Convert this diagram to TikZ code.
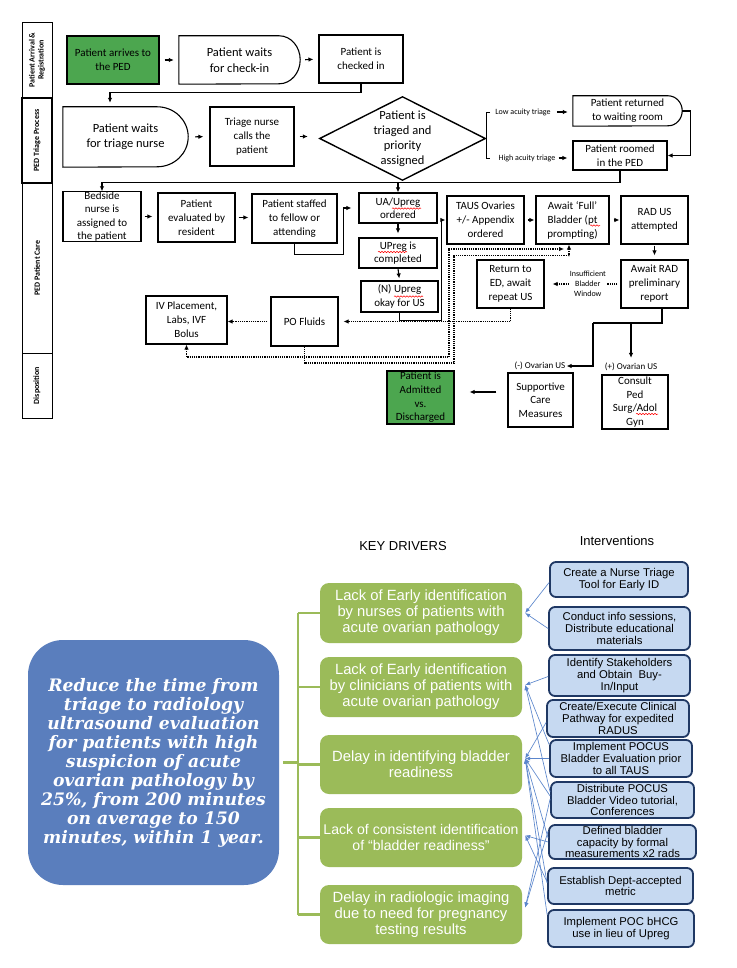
\documentclass[tikz,border=0pt]{standalone}
\usepackage{fontspec}
\setmainfont{Carlito}
\newfontfamily\arialf{Liberation Sans}
\newfontfamily\goalf{DejaVu Serif}
\usetikzlibrary{arrows.meta,calc,decorations.pathmorphing}
\definecolor{pedgreen}{HTML}{4CA64F}
\definecolor{drvgreen}{HTML}{9BBB59}
\definecolor{goalblue}{HTML}{5A7EBD}
\definecolor{ivfill}{HTML}{C6D9F1}
\definecolor{ivborder}{HTML}{1F3864}
\definecolor{linkblue}{HTML}{5B86CC}
\newcommand\delayshape[3]{\draw[line width=1.1pt] (#1.north west) -- ([xshift=-#2pt]#1.north east) arc[start angle=90,end angle=-90,x radius=#2pt,y radius=#3pt] -- (#1.south west) -- cycle;}
\begin{document}
\begin{tikzpicture}[x=1pt,y=-1pt,
  wh/.style 2 args={minimum width=#1pt, minimum height=#2pt},
  tx/.style={align=center, inner sep=0pt, font=\fontsize{11}{14}\selectfont},
  fb/.style={tx, draw, line width=1.1pt},
  bigf/.style={font=\fontsize{12.5}{15.5}\selectfont},
  sm/.style={align=center, inner sep=0pt, font=\fontsize{8}{10}\selectfont},
  sm9/.style={align=center, inner sep=0pt, font=\fontsize{9}{11}\selectfont},
  lane/.style={draw, line width=0.8pt, rotate=90, align=center, inner sep=0pt, font=\bfseries\fontsize{8}{9}\selectfont},
  con/.style={line width=1.1pt, -{Latex[length=5pt,width=4.5pt]}},
  dcon/.style={line width=1.2pt, densely dotted, -{Latex[length=5pt,width=4.5pt]}},
  dbl/.style={line width=1.2pt, densely dotted, {Latex[length=5pt,width=4.5pt]}-{Latex[length=5pt,width=4.5pt]}},
  spell/.style={draw=red, line width=0.5pt, decorate, decoration={snake, amplitude=0.7pt, segment length=3pt}},
  hdr/.style={inner sep=0pt, font=\arialf\fontsize{13}{15}\selectfont},
  goal/.style={fill=goalblue, rounded corners=35pt, text=white, align=center, inner sep=0pt, font=\goalf\bfseries\itshape\fontsize{17.2}{19}\selectfont},
  drv/.style={fill=drvgreen, rounded corners=9pt, text=white, align=center, inner sep=0pt, minimum width=202pt, font=\arialf\fontsize{14.8}{16}\selectfont},
  iv/.style={draw=ivborder, line width=1.8pt, fill=ivfill, rounded corners=6pt, align=center, inner sep=0pt, font=\arialf\fontsize{11.3}{11.6}\selectfont},
  tree/.style={draw=drvgreen, line width=2.2pt},
  barr/.style={draw=linkblue, line width=0.65pt, -{Latex[length=5pt,width=4pt]}}
]
\useasboundingbox (0,0) rectangle (736,968);
\fill[white] (0,0) rectangle (736,968);

% ---------- swimlanes ----------
\node[lane, wh={76}{30}] (L1) at (37,60) {Patient Arrival \&\\Registration};
\node[lane, wh={85}{30}, line width=1.5pt] (L2) at (37,140.5) {PED Triage Process};
\node[lane, wh={170}{30}] (L3) at (37,268) {PED Patient Care};
\node[lane, wh={65}{30}] (L4) at (37,385.5) {Disposition};

% ---------- row 1 ----------
\node[fb, fill=pedgreen, wh={92}{48}] (arr) at (113,60) {Patient arrives to\\the PED};
\node[tx, bigf, wh={121}{48}] (wck) at (239.5,60) {Patient waits\\for check-in};
\delayshape{wck}{21}{24}
\node[fb, wh={84}{48}] (chk) at (361,59) {Patient is\\checked in};
\draw[con, shorten <=5pt, shorten >=5pt] (arr.east) -- (wck.west);
\draw[con, shorten <=5pt, shorten >=5pt] (wck.east) -- (chk.west);

% ---------- row 2 ----------
\node[tx, bigf, wh={125}{60}] (wtri) at (125.5,137) {Patient waits\\for triage nurse};
\delayshape{wtri}{31}{30}
\node[fb, wh={84}{59}] (tn) at (252,136.5) {Triage nurse\\calls the\\patient};
\node[tx, font=\fontsize{12.5}{15}\selectfont, wh={165}{83}] (diam) at (402.5,138.5) {Patient is\\triaged and\\priority\\assigned};
\draw[line width=1.4pt] (diam.west) -- (diam.north) -- (diam.east) -- (diam.south) -- cycle;
\draw[con, shorten >=4pt] (chk.south) -- ++(0,9) -| ([xshift=-15.5pt]wtri.north);
\draw[con, shorten <=7pt, shorten >=6pt] (wtri.east) -- (tn.west);
\draw[con, shorten <=5pt, shorten >=12pt] (tn.east) -- (tn.east -| diam.west);

\coordinate (bt) at (490,112);
\coordinate (bb) at (490,158);
\draw[line width=0.8pt] (bt) -- ++(-4,0) |- (bb);
\node[sm] (lowl) at (523,112) {Low acuity triage};
\node[sm] (highl) at (527,158) {High acuity triage};
\node[tx, wh={109}{30}] (ret) at (627.5,111) {Patient returned\\to waiting room};
\delayshape{ret}{14}{15}
\node[fb, wh={94}{29}] (room) at (620,155.5) {Patient roomed\\in the PED};
\draw[con, shorten <=6pt, shorten >=5pt] (lowl.east) -- (lowl.east -| ret.west);
\draw[con, shorten <=3pt, shorten >=5pt] (highl.east) -- (highl.east -| room.west);
\draw[con] (ret.east) -- ++(8,0) |- (room.east);

% ---------- row 3 ----------
\node[fb, wh={78}{49}, font=\fontsize{11}{13.3}\selectfont] (bed) at (102,216.5) {Bedside\\nurse is\\assigned to\\the patient};
\node[fb, wh={77}{49}] (ev) at (196.5,217.5) {Patient\\evaluated by\\resident};
\node[fb, wh={85}{49}] (stf) at (294.5,218.5) {Patient staffed\\to fellow or\\attending};
\node[fb, wh={78}{30}, font=\fontsize{11}{13.3}\selectfont] (ua) at (398,208) {UA/Upreg\\ordered};
\node[fb, wh={78}{30}, font=\fontsize{11}{13.3}\selectfont] (upc) at (398,253) {UPreg is\\completed};
\node[fb, wh={77}{31}, font=\fontsize{11}{13.3}\selectfont] (nok) at (399.5,296.5) {(N) Upreg\\okay for US};
\node[fb, wh={77}{48}] (taus) at (485.5,220) {TAUS Ovaries\\+/- Appendix\\ordered};
\node[fb, wh={73}{48}] (full) at (572.5,220) {Await ‘Full’\\Bladder (pt\\prompting)};
\node[fb, wh={67}{48}] (rad) at (654.5,220) {RAD US\\attempted};
\node[fb, wh={67}{48}] (awr) at (654.5,284) {Await RAD\\preliminary\\report};
\node[fb, wh={67}{48}] (rtn) at (510.5,284) {Return to\\ED, await\\repeat US};
\node[fb, wh={67}{49}] (po) at (304.5,321.5) {PO Fluids};
\node[fb, wh={81}{48}] (iv) at (186.5,320) {IV Placement,\\Labs, IVF\\Bolus};

% spell-check marks
\draw[spell] (392,208.5) -- (421,208.5);
\draw[spell] (378,252) -- (407,252);
\draw[spell] (394,296.5) -- (423,296.5);
\draw[spell] (590,225.5) -- (600,225.5);

\draw[line width=1.1pt] (room.south) -- ++(0,12) coordinate (rj);
\draw[con] (rj) -| (bed.north);
\draw[con] (ua.north |- rj) -- (ua.north);
\draw[con, shorten <=3pt, shorten >=5pt] (bed.east) -- (bed.east -| ev.west);
\draw[con, shorten <=3pt, shorten >=3pt] (ev.east) -- (ev.east -| stf.west);
\draw[con, shorten >=7pt] (stf.south) -- ++(0,11) -| ([xshift=-15pt]ua.west) -- (ua.west);
\draw[con, shorten >=4pt] (ua.south) -- (upc.north);
\draw[con, shorten >=2pt] (upc.south) -- (nok.north);
\draw[con, shorten >=1pt] (nok.south) -- ++(0,8) -| ([xshift=-5pt]taus.west) -- (taus.west);
\draw[con, shorten <=3pt, shorten >=1pt] (taus.east) -- (full.west);
\draw[con, shorten <=4pt, shorten >=1pt] (full.east) -- (rad.west);
\draw[con, shorten <=1pt, shorten >=4pt] (rad.south) -- (awr.north);

\draw[dcon, shorten <=3pt, shorten >=8pt] (awr.west) -- node[pos=0.43, sm, fill=white, inner sep=1pt] {Insufficient\\Bladder\\Window} (rtn.west -| rtn.east);
\draw[dcon, shorten >=5pt] (rtn.south) |- (po.east);
\draw[dcon, shorten <=3pt] (po.west) -- (po.west -| iv.east);
\draw[dcon] (po.south) |- (454,363) |- ([xshift=-3.5pt,yshift=-11pt]full.south) -- ([xshift=-3.5pt]full.south);
\coordinate (pbend) at (564,249);
\draw[dbl] (iv.south) |- (449,357) |- (pbend);

% ---------- row 4 ----------
\node[sm9] (negl) at (540,366) {(-) Ovarian US};
\node[sm9] (posl) at (631,367) {(+) Ovarian US};
\node[fb, wh={65}{54}, font=\fontsize{11}{13.7}\selectfont] (sup) at (540.5,400) {Supportive\\Care\\Measures};
\node[fb, wh={66}{54}, font=\fontsize{11}{13.6}\selectfont] (cons) at (635,402) {Consult\\Ped\\Surg/Adol\\Gyn};
\node[fb, fill=pedgreen, wh={67}{53}, font=\fontsize{11}{13.6}\selectfont] (adm) at (420.5,397.5) {Patient is\\Admitted\\vs.\\Discharged};
\draw[spell] (636,414) -- (658,414);
\coordinate (dj) at (662,323);
\draw[line width=1.1pt] ([xshift=7.5pt]awr.south) -- (dj) -- (593,323);
\draw[con, shorten >=1pt] (593,323) |- (negl.east);
\draw[con, shorten >=5pt] (posl.north |- dj) -- (posl.north);
\coordinate (sa) at ([yshift=8pt]sup.west);
\draw[con, shorten <=11pt, shorten >=15pt] (sa) -- (sa -| adm.east);

% ---------- driver diagram ----------
\node[hdr] (kd) at (403,546) {KEY DRIVERS};
\node[hdr] (intv) at (617,541) {Interventions};

\node[goal, wh={251}{245}] (goal) at (153.5,762.5) {Reduce the time from\\triage to radiology\\ultrasound evaluation\\for patients with high\\suspicion of acute\\ovarian pathology by\\25\%, from 200 minutes\\on average to 150\\minutes, within 1 year.};

\node[drv, minimum height=60pt] (D1) at (421,613) {Lack of Early identification\\by nurses of patients with\\acute ovarian pathology};
\node[drv, minimum height=60pt] (D2) at (421,687) {Lack of Early identification\\by clinicians of patients with\\acute ovarian pathology};
\node[drv, minimum height=59pt] (D3) at (421,764.5) {Delay in identifying bladder\\readiness};
\node[drv, minimum height=59pt, font=\arialf\fontsize{14.1}{16}\selectfont] (D4) at (421,837.5) {Lack of consistent identification\\of “bladder readiness”};
\node[drv, minimum height=59pt] (D5) at (421,914.5) {Delay in radiologic imaging\\due to need for pregnancy\\testing results};

\draw[tree] ([xshift=4pt]goal.east) -- ++(15,0);
\draw[tree] ([xshift=-22pt]D1.west) -- ([xshift=-22pt]D5.west);
\foreach \d in {D1,D2,D3,D4,D5} {\draw[tree] (\d.west) -- ++(-22,0);}

\node[iv, wh={138}{35}] (I1) at (619,579.5) {Create a Nurse Triage\\Tool for Early ID};
\node[iv, wh={141}{43}] (I2) at (619.5,628.5) {Conduct info sessions,\\Distribute educational\\materials};
\node[iv, wh={141}{41}] (I3) at (619.5,675.5) {Identify Stakeholders\\and Obtain\ \ Buy-\\In/Input};
\node[iv, wh={142}{37}] (I4) at (618,718.5) {Create/Execute Clinical\\Pathway for expedited\\RADUS};
\node[iv, wh={142}{37}] (I5) at (621,758.5) {Implement POCUS\\Bladder Evaluation prior\\to all TAUS};
\node[iv, wh={143}{36}] (I6) at (622.5,800) {Distribute POCUS\\Bladder Video tutorial,\\Conferences};
\node[iv, wh={147}{34}] (I7) at (622.5,842) {Defined bladder\\capacity by formal\\measurements x2 rads};
\node[iv, wh={145}{36}] (I8) at (620.5,886) {Establish Dept-accepted\\metric};
\node[iv, wh={146}{37}] (I9) at (621,928.5) {Implement POC bHCG\\use in lieu of Upreg};

\foreach \s/\dy/\t/\ty in {I1/3/D1/0, I2/0/D1/0, I3/1/D2/-2, I5/-14/D2/-2, I6/-8/D2/-2,
  I4/4/D3/-6, I5/0/D3/-6, I6/-4/D3/-6, I7/-4/D3/-6, I8/-3/D3/-6, I9/-14/D3/-6,
  I7/0/D4/-2, I8/-4/D4/-2, I6/-1/D5/-7, I7/-11/D5/-7}
  {\draw[barr] ($(\s.west)+(0,\dy)$) -- ($(\t.east)+(3,\ty)$);}
\end{tikzpicture}
\end{document}
